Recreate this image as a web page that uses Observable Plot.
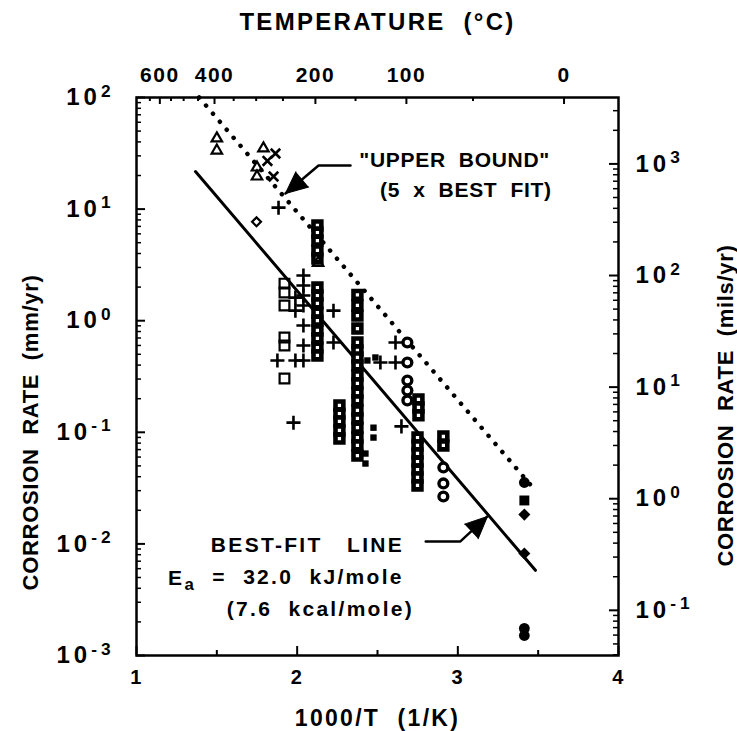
<!DOCTYPE html>
<html><head><meta charset="utf-8">
<script src="https://cdn.jsdelivr.net/npm/d3@7"></script>
<script src="https://cdn.jsdelivr.net/npm/@observablehq/plot@0.6"></script>
<style>
body{margin:0;background:#fff}
svg text{font-family:"Liberation Sans",Arial,Helvetica,sans-serif;font-weight:bold}
</style>
</head><body><div id="chart"></div>
<script>
// ---- data (1000/T in 1/K, corrosion rate in mm/yr) ----
const openTriangles = [[1.50,43],[1.50,33.5],[1.79,35],[1.75,23.6],[1.75,19.6],[2.13,3.3]];
const crosses = [[1.865,31.5],[1.815,27],[1.853,19.6]];
const openDiamonds = [[1.747,7.7]];
const pluses = [[1.884,10.3],[2.039,2.54],[2.039,2.07],[2.039,1.68],[2.039,1.37],[2.039,0.906],[2.039,0.60],[2.039,0.44],
  [1.989,1.61],[1.989,1.23],[1.989,0.44],[1.877,0.44],[2.226,1.23],[2.226,0.638],[1.977,0.122],[2.649,0.113],
  [2.612,0.638],[2.612,0.422],[2.518,0.422]];
const openSquares = [[1.921,2.15],[1.921,1.79],[1.921,1.37],[1.921,0.706],[1.921,0.60],[1.921,0.303]];
const stackedSquares = [
  [2.126,7.13],[2.126,6.17],[2.126,5.23],[2.126,4.26],[2.126,3.61],
  [2.126,1.98],[2.126,1.68],[2.126,1.43],[2.126,1.18],[2.126,1.00],[2.126,0.817],[2.126,0.693],[2.126,0.575],[2.126,0.488],
  [2.263,0.174],[2.263,0.147],[2.263,0.125],[2.263,0.104],[2.263,0.0879],
  [2.375,1.70],[2.375,1.37],[2.375,1.11],[2.375,0.851],[2.375,0.638],[2.375,0.541],[2.375,0.468],[2.375,0.397],[2.375,0.323],
  [2.375,0.274],[2.375,0.227],[2.375,0.193],[2.375,0.157],[2.375,0.133],[2.375,0.110],[2.375,0.0897],[2.375,0.0762],[2.375,0.0619],
  [2.749,0.0897],[2.749,0.0762],[2.749,0.0646],[2.749,0.0547],[2.749,0.0464],[2.749,0.0394],[2.749,0.0334],
  [2.755,0.197],[2.755,0.167],[2.755,0.142],
  [2.91,0.0917],[2.91,0.0762]
];
const smallFilledSquares = [[2.425,0.0645],[2.425,0.0525],[2.475,0.110],[2.475,0.0897],[2.437,0.44],[2.487,0.468]];
const openCircles = [[2.686,0.638],[2.686,0.422],[2.686,0.291],[2.686,0.237],[2.686,0.193],[2.91,0.0484],[2.91,0.0348],[2.91,0.0266]];
const filledCircles = [[3.414,0.0355],[3.414,0.00175],[3.414,0.00151]];
const filledSquares = [[3.414,0.0245]];
const filledDiamonds = [[3.414,0.0183],[3.414,0.0082]];
// fitted lines (end points)
const bestFit = [[1.367,21.7],[3.483,0.0058]];
const upperBound = [[1.39,100],[3.483,0.030]];

// ---- axes ----
const bottomTickLabels = [1,2,3,4];
const bottomMinorTicks = [1.5,2.5,3.5];
const topTickLabels = [600,400,200,100,0];           // degrees C
const topMinorTicks = [650,550,500,450,350,300,250,150,50];
const leftExponents = [2,1,0,-1,-2,-3];               // mm/yr decades
const rightExponents = [3,2,1,0,-1];                  // mils/yr decades
const MILS_PER_MM = 39.37;
const titleTop = "TEMPERATURE  (°C)";
const titleBottom = "1000/T  (1/K)";
const titleLeft = "CORROSION  RATE  (mm/yr)";
const titleRight = "CORROSION  RATE  (mils/yr)";

// ---- annotations (centre positions in data units) ----
const upperNotes = [
  {text: "\"UPPER  BOUND\"", x: 2.98, y: 27.5},
  {text: "(5  x  BEST  FIT)", x: 3.05, y: 14.8}
];
const lowerNotes = [
  {text: "BEST-FIT   LINE", x: 2.064, y: 0.0097},
  {text: "E_a  =  32.0  kJ/mole", x: 1.93, y: 0.0049},
  {text: "(7.6  kcal/mole)", x: 2.145, y: 0.00262}
];
const upperArrow = [[2.332,24.6],[2.133,24.6],[1.927,13.8]];
const bestArrow = [[2.80,0.01052],[3.016,0.01052],[3.184,0.01762]];

const FW = 482, FH = 558;
const xs = d => d[0], ys = d => d[1];
const decadeMinors = [];
for (let e = -3; e < 2; e++) for (let m = 2; m <= 9; m++) decadeMinors.push(m * 10 ** e);
const milsMinors = [];
for (let e = -2; e < 4; e++) for (let m = 2; m <= 9; m++) { const v = m * 10 ** e; if (v / MILS_PER_MM >= 0.001 && v / MILS_PER_MM <= 100) milsMinors.push(v); }

const chart = Plot.plot({
  width: 737, height: 731,
  marginLeft: 136, marginRight: 119, marginTop: 97, marginBottom: 76,
  x: {domain: [1, 4], axis: null},
  y: {type: "log", domain: [0.001, 100], axis: null},
  style: {fontFamily: "Liberation Sans, Arial, sans-serif", fontWeight: "bold", color: "#000", background: "#fff"},
  marks: [
    // ticks (inward)
    Plot.ruleX(bottomTickLabels, {x: d => d, insetTop: FH - 9, strokeWidth: 2}),
    Plot.ruleX(bottomMinorTicks, {x: d => d, insetTop: FH - 5, strokeWidth: 2}),
    Plot.ruleX(topTickLabels, {x: t => 1000 / (t + 273.15), insetBottom: FH - 7, strokeWidth: 2}),
    Plot.ruleX(topMinorTicks, {x: t => 1000 / (t + 273.15), insetBottom: FH - 4, strokeWidth: 2}),
    Plot.ruleY(leftExponents, {y: e => 10 ** e, insetRight: FW - 9, strokeWidth: 2}),
    Plot.ruleY(decadeMinors, {y: d => d, insetRight: FW - 5, strokeWidth: 1.5}),
    Plot.ruleY(rightExponents, {y: e => 10 ** e / MILS_PER_MM, insetLeft: FW - 9, strokeWidth: 2}),
    Plot.ruleY(milsMinors, {y: d => d / MILS_PER_MM, insetLeft: FW - 5, strokeWidth: 1.5}),
    Plot.frame({stroke: "#000", strokeWidth: 2.5}),
    // tick labels
    Plot.text(bottomTickLabels, {x: d => d, frameAnchor: "bottom", lineAnchor: "middle", dy: 22, text: d => String(d), fontSize: 20}),
    Plot.text(topTickLabels, {x: t => 1000 / (t + 273.15), frameAnchor: "top", lineAnchor: "middle", dy: -22, text: d => String(d), fontSize: 21}),
    Plot.text(leftExponents, {y: e => 10 ** e, frameAnchor: "left", dx: -22, textAnchor: "end", text: e => "10^" + e, fontSize: 24}),
    Plot.text(rightExponents, {y: e => 10 ** e / MILS_PER_MM, frameAnchor: "right", dx: 17, textAnchor: "start", text: e => "10^" + e, fontSize: 24}),
    // axis titles
    Plot.text([titleTop], {frameAnchor: "top", lineAnchor: "middle", dy: -75, fontSize: 24}),
    Plot.text([titleBottom], {frameAnchor: "bottom", lineAnchor: "middle", dy: 63, fontSize: 23}),
    Plot.text([titleLeft], {frameAnchor: "left", textAnchor: "middle", dx: -106, dy: 56, rotate: -90, fontSize: 22}),
    Plot.text([titleRight], {frameAnchor: "right", textAnchor: "middle", dx: 107, dy: 29, rotate: -90, fontSize: 22}),
    // fitted lines
    Plot.line(upperBound, {x: xs, y: ys, stroke: "#000", strokeWidth: 4.5, strokeDasharray: "0.1 10.5", strokeLinecap: "round"}),
    Plot.line(bestFit, {x: xs, y: ys, stroke: "#000", strokeWidth: 3}),
    // annotation arrows
    Plot.line(upperArrow, {x: xs, y: ys, stroke: "#000", strokeWidth: 2.5}),
    Plot.line(bestArrow, {x: xs, y: ys, stroke: "#000", strokeWidth: 2.5}),
    Plot.vector([upperArrow[2]], {x: xs, y: ys, length: 22, rotate: 230, shape: "spike", r: 10, anchor: "end", fill: "#000", stroke: "#000", strokeWidth: 1}),
    Plot.vector([bestArrow[2]], {x: xs, y: ys, length: 22, rotate: 47, shape: "spike", r: 10, anchor: "end", fill: "#000", stroke: "#000", strokeWidth: 1}),
    Plot.text(upperNotes, {x: "x", y: "y", text: "text", textAnchor: "middle", fontSize: 21}),
    Plot.text(lowerNotes, {x: "x", y: "y", text: "text", textAnchor: "middle", fontSize: 21}),
    // data
    Plot.dot(stackedSquares, {x: xs, y: ys, symbol: "square2", r: 5.0, stroke: "#000", strokeWidth: 4.6, fill: "#fff"}),
    Plot.dot(openSquares, {x: xs, y: ys, symbol: "square2", r: 6.2, stroke: "#000", strokeWidth: 2.2}),
    Plot.dot(pluses, {x: xs, y: ys, symbol: "plus", r: 4.6, stroke: "#000", strokeWidth: 2.6}),
    Plot.dot(crosses, {x: xs, y: ys, symbol: "times", r: 4.4, stroke: "#000", strokeWidth: 2.6}),
    Plot.dot(openTriangles, {x: xs, y: ys, symbol: "triangle2", r: 5, stroke: "#000", strokeWidth: 2.2}),
    Plot.dot(openDiamonds, {x: xs, y: ys, symbol: "square2", rotate: 45, r: 4, stroke: "#000", strokeWidth: 2.2}),
    Plot.dot(smallFilledSquares, {x: xs, y: ys, symbol: "square", r: 3.6, fill: "#000"}),
    Plot.dot(openCircles, {x: xs, y: ys, symbol: "circle", r: 4.4, stroke: "#000", strokeWidth: 3.4, fill: "#fff"}),
    Plot.dot(filledCircles, {x: xs, y: ys, symbol: "circle", r: 5.4, fill: "#000"}),
    Plot.dot(filledSquares, {x: xs, y: ys, symbol: "square", r: 5.6, fill: "#000"}),
    Plot.dot(filledDiamonds, {x: xs, y: ys, symbol: "square", rotate: 45, r: 4.8, fill: "#000"})
  ]
});

// letter spacing (chosen by the kind of text), then super/subscripts
const upperTexts = upperNotes.map(d => d.text);
const lowerTexts = lowerNotes.map(d => d.text);
const spacingFor = s =>
  s.startsWith("10^") ? 4 :
  /^\d+$/.test(s) ? 1.5 :
  s === titleTop || s === titleBottom ? 2.3 :
  s === titleLeft || s === titleRight ? 0.7 :
  upperTexts.includes(s) ? 0.7 :
  lowerTexts.includes(s) ? 2.3 : null;
const NS = "http://www.w3.org/2000/svg";
chart.querySelectorAll("text").forEach(t => {
  const s = t.textContent;
  const sp = spacingFor(s);
  if (sp != null) t.setAttribute("letter-spacing", sp);
  if (s.includes("^")) {
    const [b, e] = s.split("^");
    t.textContent = b;
    const ts = document.createElementNS(NS, "tspan");
    ts.setAttribute("dy", "-0.5em"); ts.setAttribute("font-size", "0.72em");
    ts.textContent = e; t.appendChild(ts);
  } else if (s.includes("_")) {
    const i = s.indexOf("_");
    t.textContent = s.slice(0, i);
    const sub = document.createElementNS(NS, "tspan");
    sub.setAttribute("dy", "0.3em"); sub.setAttribute("font-size", "0.8em");
    sub.textContent = s[i + 1]; t.appendChild(sub);
    const rest = document.createElementNS(NS, "tspan");
    rest.setAttribute("dy", "-0.3em"); rest.textContent = s.slice(i + 2); t.appendChild(rest);
  }
});
document.getElementById("chart").appendChild(chart);
</script></body></html>
